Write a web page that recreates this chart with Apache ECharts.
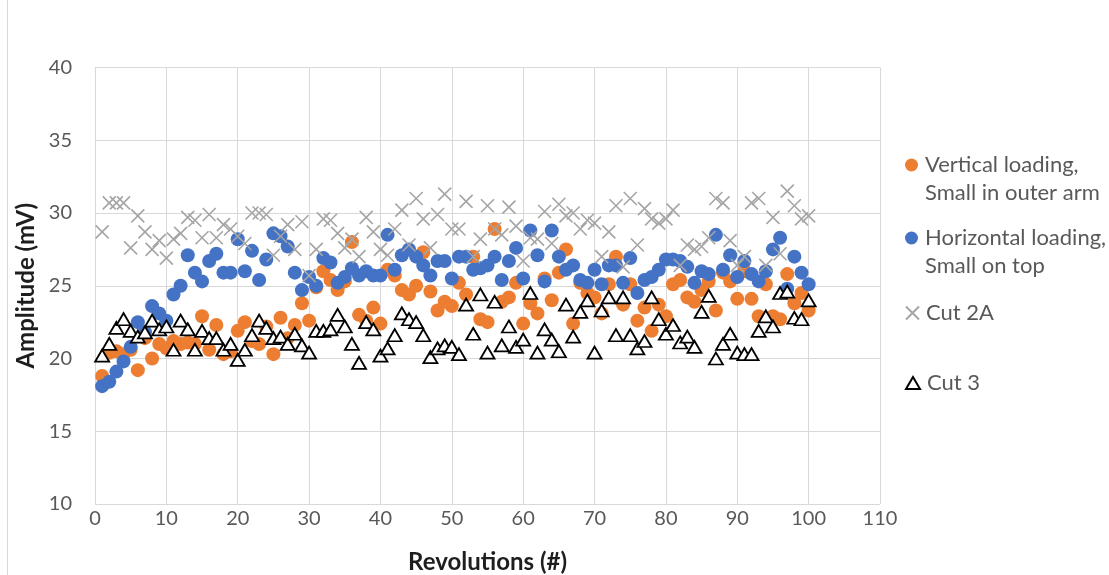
<!DOCTYPE html>
<html>
<head>
<meta charset="utf-8">
<script src="https://cdn.jsdelivr.net/npm/echarts@6/dist/echarts.min.js"></script>
<style>
html,body{margin:0;padding:0;background:#fff;}
#chart{width:1109px;height:575px;}
</style>
</head>
<body>
<div id="chart"></div>
<script>
const revolutions = [1,2,3,4,5,6,7,8,9,10,11,12,13,14,15,16,17,18,19,20,21,22,23,24,25,26,27,28,29,30,31,32,33,34,35,36,37,38,39,40,41,42,43,44,45,46,47,48,49,50,51,52,53,54,55,56,57,58,59,60,61,62,63,64,65,66,67,68,69,70,71,72,73,74,75,76,77,78,79,80,81,82,83,84,85,86,87,88,89,90,91,92,93,94,95,96,97,98,99,100];

const verticalLoading = [18.8,20.4,20.5,20.3,20.6,19.2,21.4,20.0,21.0,20.7,21.2,21.0,21.1,21.0,22.9,20.6,22.3,20.3,20.5,21.9,22.5,21.2,21.0,22.2,20.3,22.8,21.4,22.3,23.8,22.6,24.9,26.0,25.4,24.7,25.3,28.0,23.0,22.6,23.5,22.4,26.1,25.7,24.7,24.4,25.0,27.3,24.6,23.3,23.9,23.6,25.2,24.4,27.0,22.7,22.5,28.9,23.9,24.2,25.2,22.4,23.8,23.1,25.5,24.0,25.9,27.5,22.4,25.2,24.5,24.2,23.1,25.1,27.0,23.7,25.1,22.6,23.5,21.9,23.7,22.9,25.1,25.4,24.2,23.9,24.7,25.3,23.3,25.9,25.3,24.1,26.0,24.1,22.9,25.1,22.9,22.7,25.8,23.8,24.5,23.3];

const horizontalLoading = [18.1,18.4,19.1,19.8,20.8,22.5,21.8,23.6,23.1,22.6,24.4,25.0,27.1,25.9,25.3,26.7,27.2,25.9,25.9,28.2,26.0,27.4,25.4,26.8,28.6,28.4,27.7,25.9,24.7,25.6,25.0,26.9,26.6,25.2,25.6,26.2,25.7,26.0,25.7,25.7,28.5,26.1,27.1,27.5,27.0,26.4,25.7,26.7,26.7,25.5,27.0,27.0,26.1,26.2,26.4,27.0,25.4,26.7,27.6,25.5,28.8,27.1,25.3,28.8,27.0,26.1,26.4,25.4,25.2,26.1,25.1,26.4,26.4,25.2,26.9,24.5,25.4,25.6,26.1,26.8,26.8,26.7,26.3,25.2,26.0,25.8,28.5,26.1,27.1,25.6,26.7,25.8,25.3,26.0,27.5,28.3,24.8,27.0,25.9,25.1];

const cut2A = [28.7,30.7,30.7,30.7,27.6,29.8,28.7,27.5,28.1,26.9,28.2,28.6,29.7,29.5,28.3,29.9,28.3,29.2,28.9,28.4,27.9,30.0,30.0,29.9,27.1,28.4,29.2,27.5,29.4,25.7,27.5,29.6,29.5,28.6,27.6,28.2,27.0,29.7,28.7,27.5,27.1,28.9,30.2,27.8,31.0,29.6,27.6,29.9,31.3,28.9,28.9,30.8,27.0,28.2,30.5,28.9,28.5,30.4,29.1,26.7,28.3,28.2,30.1,27.9,30.6,29.8,30.0,28.9,29.5,29.3,27.0,28.7,30.5,26.3,31.0,27.8,30.3,29.6,29.3,29.6,30.2,26.4,27.8,27.5,27.7,28.3,31.0,30.7,28.1,26.4,27.0,30.7,31.0,26.4,29.7,27.2,31.5,30.5,29.6,29.8];

const cut3 = [20.2,21.0,22.1,22.7,21.9,21.5,21.8,22.6,22.0,22.2,20.6,22.6,22.0,20.6,21.9,21.4,21.4,20.6,21.0,19.9,20.6,21.6,22.6,22.1,21.4,21.5,21.0,21.7,20.9,20.4,21.9,21.9,22.0,23.0,22.2,21.0,19.7,22.5,22.0,20.2,20.7,21.6,23.1,22.7,22.5,21.6,20.1,20.7,20.9,20.8,20.3,23.7,21.7,24.4,20.4,23.9,20.9,22.2,20.8,21.3,24.5,20.4,22.0,21.3,20.5,23.7,21.5,23.2,24.0,20.4,23.3,24.2,21.6,24.2,21.6,20.7,21.2,24.2,22.7,21.7,22.3,21.1,21.5,20.8,23.2,24.3,20.0,21.0,21.7,20.4,20.3,20.3,21.9,22.9,22.2,24.5,24.6,22.8,22.7,24.0];

const seriesNames = ['Vertical loading, Small in outer arm', 'Horizontal loading, Small on top', 'Cut 2A', 'Cut 3'];
const legendLines = [['Vertical loading,', 'Small in outer arm'], ['Horizontal loading,', 'Small on top'], ['Cut 2A'], ['Cut 3']];
const xTicks = [0,10,20,30,40,50,60,70,80,90,100,110];
const yTicks = [10,15,20,25,30,35,40];

const FONT = 'Lato, "Open Sans", sans-serif';
const pair = arr => arr.map((v, i) => [revolutions[i], v]);
const crossPath = 'path://M0,0L10,10M0,10L10,0';

const chart = echarts.init(document.getElementById('chart'), null, {renderer: 'canvas'});

function legendFor(idx, top) {
  const lines = legendLines[idx];
  return {
    show: true,
    left: 900,
    top: top,
    orient: 'vertical',
    selectedMode: false,
    data: [seriesNames[idx]],
    itemWidth: idx === 3 ? 14 : 13,
    itemHeight: idx === 3 ? 12 : 13,
    itemGap: 0,
    formatter: () => lines.length > 1 ? (' \n' + lines.join('\n')) : lines[0],
    textStyle: {
      fontFamily: FONT,
      fontSize: 22,
      color: '#595959',
      lineHeight: 28,
      padding: [0, 0, 0, 2]
    }
  };
}

const option = {
  animation: false,
  backgroundColor: '#fff',
  grid: {left: 95, right: 229, top: 67.5, bottom: 71, containLabel: false, outerBoundsMode: 'none'},
  xAxis: {
    type: 'value',
    min: 0, max: 110, interval: 10,
    name: 'Revolutions (#)',
    nameLocation: 'middle',
    nameGap: 46,
    nameTextStyle: {fontFamily: FONT, fontSize: 24, fontWeight: 'bold', color: '#1e1e1e'},
    axisLine: {show: false},
    axisTick: {show: false},
    axisLabel: {fontFamily: FONT, fontSize: 20, color: '#595959', margin: 5},
    splitLine: {show: true, lineStyle: {color: '#d9d9d9', width: 1}}
  },
  yAxis: {
    type: 'value',
    min: 10, max: 40, interval: 5,
    name: 'Amplitude (mV)',
    nameLocation: 'middle',
    nameRotate: 90,
    nameGap: 54,
    nameTextStyle: {fontFamily: FONT, fontSize: 24, fontWeight: 'bold', color: '#1e1e1e'},
    axisLine: {show: false},
    axisTick: {show: false},
    axisLabel: {fontFamily: FONT, fontSize: 20, color: '#595959', margin: 23},
    splitLine: {show: true, lineStyle: {color: '#d9d9d9', width: 1}}
  },
  legend: [
    legendFor(0, 118),
    legendFor(1, 191),
    legendFor(2, 294),
    legendFor(3, 364)
  ],
  graphic: [{
    type: 'line', silent: true,
    shape: {x1: 7.5, y1: 0, x2: 7.5, y2: 575},
    style: {stroke: '#d9d9d9', lineWidth: 1}
  }],
  series: [
    {
      name: seriesNames[0], type: 'scatter', data: pair(verticalLoading),
      symbol: 'circle', symbolSize: 14,
      itemStyle: {color: '#ED7D31', opacity: 1}, z: 2
    },
    {
      name: seriesNames[1], type: 'scatter', data: pair(horizontalLoading),
      symbol: 'circle', symbolSize: 14,
      itemStyle: {color: '#4472C4', opacity: 1}, z: 3
    },
    {
      name: seriesNames[2], type: 'scatter', data: pair(cut2A),
      symbol: crossPath, symbolSize: 13,
      itemStyle: {color: 'rgba(0,0,0,0)', borderColor: '#A5A5A5', borderWidth: 1.6, opacity: 1}, z: 4
    },
    {
      name: seriesNames[3], type: 'scatter', data: pair(cut3),
      symbol: 'triangle', symbolSize: [14, 12],
      itemStyle: {color: '#ffffff', borderColor: '#000000', borderWidth: 1.8, opacity: 1}, z: 5
    }
  ]
};
chart.setOption(option);
</script>
</body>
</html>
